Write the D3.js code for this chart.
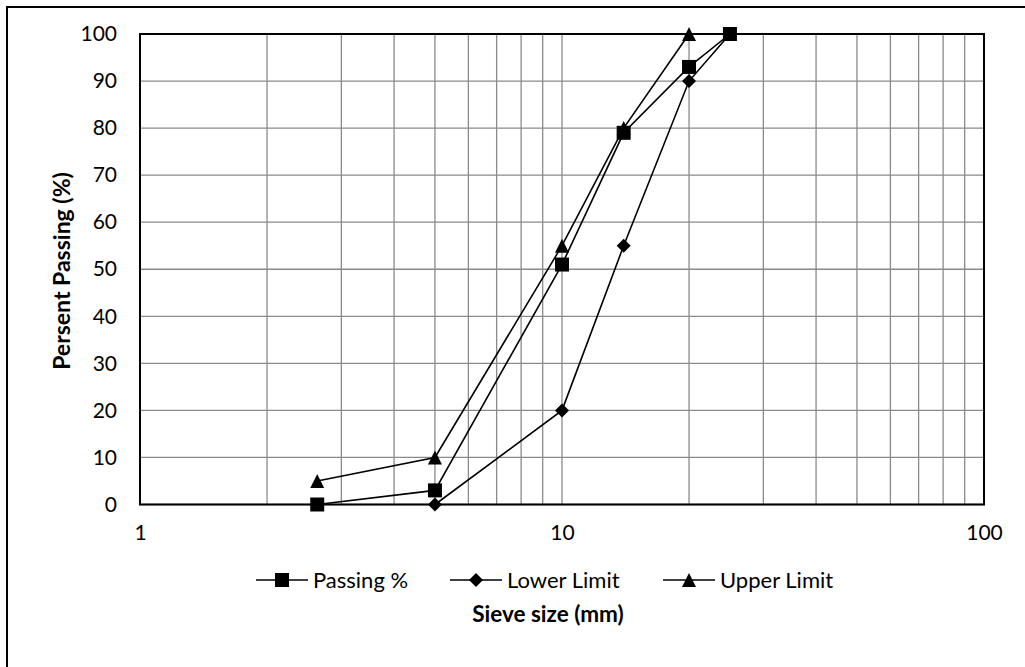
<!DOCTYPE html>
<html>
<head>
<meta charset="utf-8">
<script src="https://cdn.jsdelivr.net/npm/d3@7"></script>
<style>
  html, body { margin: 0; padding: 0; background: #fff; }
  svg { display: block; }
  text { font-family: Lato, "Open Sans", sans-serif; fill: #000; }
</style>
</head>
<body>
<svg id="chart" width="1025" height="667"></svg>
<script>
// ---- data ----
const passingX = [2.63, 5, 10, 14, 20, 25];
const passingY = [0, 3, 51, 79, 93, 100];
const lowerX = [5, 10, 14, 20, 25];
const lowerY = [0, 20, 55, 90, 100];
const upperX = [2.63, 5, 10, 14, 20];
const upperY = [5, 10, 55, 80, 100];
const yTicks = [0, 10, 20, 30, 40, 50, 60, 70, 80, 90, 100];
const xTicks = [1, 10, 100];
const seriesNames = ["Passing %", "Lower Limit", "Upper Limit"];

// ---- layout ----
const svg = d3.select("#chart");
const L = 140, R = 984, T = 34, B = 504.5;
const x = d3.scaleLog().domain([1, 100]).range([L, R]);
const y = d3.scaleLinear().domain([0, 100]).range([B, T]);

// outer border (only top/left visible in reference)
svg.append("rect").attr("x", 7).attr("y", 7).attr("width", 1100).attr("height", 700)
  .attr("fill", "none").attr("stroke", "#000").attr("stroke-width", 2);

// grid lines
const minor = [];
for (let d = 1; d < 100; d *= 10) for (let k = 1; k <= 9; k++) minor.push(d * k);
minor.push(100);
svg.append("g").selectAll("line.v").data(minor).join("line")
  .attr("x1", d => x(d)).attr("x2", d => x(d)).attr("y1", T).attr("y2", B)
  .attr("stroke", "#8a8a8a").attr("stroke-width", 1.3);
svg.append("g").selectAll("line.h").data(yTicks).join("line")
  .attr("x1", L).attr("x2", R).attr("y1", d => y(d)).attr("y2", d => y(d))
  .attr("stroke", "#8a8a8a").attr("stroke-width", 1.3);

// plot border
svg.append("rect").attr("x", L).attr("y", T).attr("width", R - L).attr("height", B - T)
  .attr("fill", "none").attr("stroke", "#000").attr("stroke-width", 2);

// axes labels
const yAxis = d3.axisLeft(y).tickValues(yTicks).tickSize(0).tickPadding(23);
const gy = svg.append("g").attr("transform", `translate(${L},0)`).call(yAxis);
gy.select(".domain").remove();
gy.selectAll("text").style("font-size", "21px").style("font-family", "Lato, 'Open Sans', sans-serif");

const xAxis = d3.axisBottom(x).tickValues(xTicks).tickFormat(d3.format("d")).tickSize(0).tickPadding(21);
const gx = svg.append("g").attr("transform", `translate(0,${B})`).call(xAxis);
gx.select(".domain").remove();
gx.selectAll("text").style("font-size", "21px").style("font-family", "Lato, 'Open Sans', sans-serif");

// marker shapes
function marker(type, s) {
  const h = s / 2;
  if (type === "square") return `M${-h},${-h}h${s}v${s}h${-s}Z`;
  if (type === "diamond") return `M0,${-h}L${h},0L0,${h}L${-h},0Z`;
  return `M0,${-h}L${h},${h}L${-h},${h}Z`;
}
const series = [
  { name: seriesNames[0], xs: passingX, ys: passingY, m: "square", s: 14 },
  { name: seriesNames[1], xs: lowerX, ys: lowerY, m: "diamond", s: 14 },
  { name: seriesNames[2], xs: upperX, ys: upperY, m: "triangle", s: 14 }
];
const line = d3.line().x(d => x(d[0])).y(d => y(d[1]));
series.forEach(sr => {
  const pts = sr.xs.map((v, i) => [v, sr.ys[i]]);
  svg.append("path").attr("d", line(pts)).attr("fill", "none")
    .attr("stroke", "#000").attr("stroke-width", 1.6);
  svg.append("g").selectAll("path").data(pts).join("path")
    .attr("transform", d => `translate(${x(d[0])},${y(d[1])})`)
    .attr("d", marker(sr.m, sr.s)).attr("fill", "#000");
});

// legend
const legY = 580;
const legX = [256, 450, 663];
series.forEach((sr, i) => {
  const g = svg.append("g").attr("transform", `translate(${legX[i]},${legY})`);
  g.append("line").attr("x1", 0).attr("x2", 52).attr("y1", 0).attr("y2", 0)
    .attr("stroke", "#000").attr("stroke-width", 1.6);
  g.append("path").attr("transform", "translate(26,0)").attr("d", marker(sr.m, sr.s)).attr("fill", "#000");
  g.append("text").attr("x", 57).attr("y", 0).attr("dy", "0.35em")
    .style("font-size", "22px").text(sr.name);
});

// axis titles
svg.append("text").attr("x", 548).attr("y", 614).attr("dy", "0.35em")
  .attr("text-anchor", "middle").style("font-size", "22.5px").style("font-weight", "bold")
  .text("Sieve size (mm)");
svg.append("text").attr("transform", "translate(62,271) rotate(-90)").attr("dy", "0.35em")
  .attr("text-anchor", "middle").style("font-size", "23px").style("font-weight", "bold")
  .text("Persent Passing (%)");
</script>
</body>
</html>
